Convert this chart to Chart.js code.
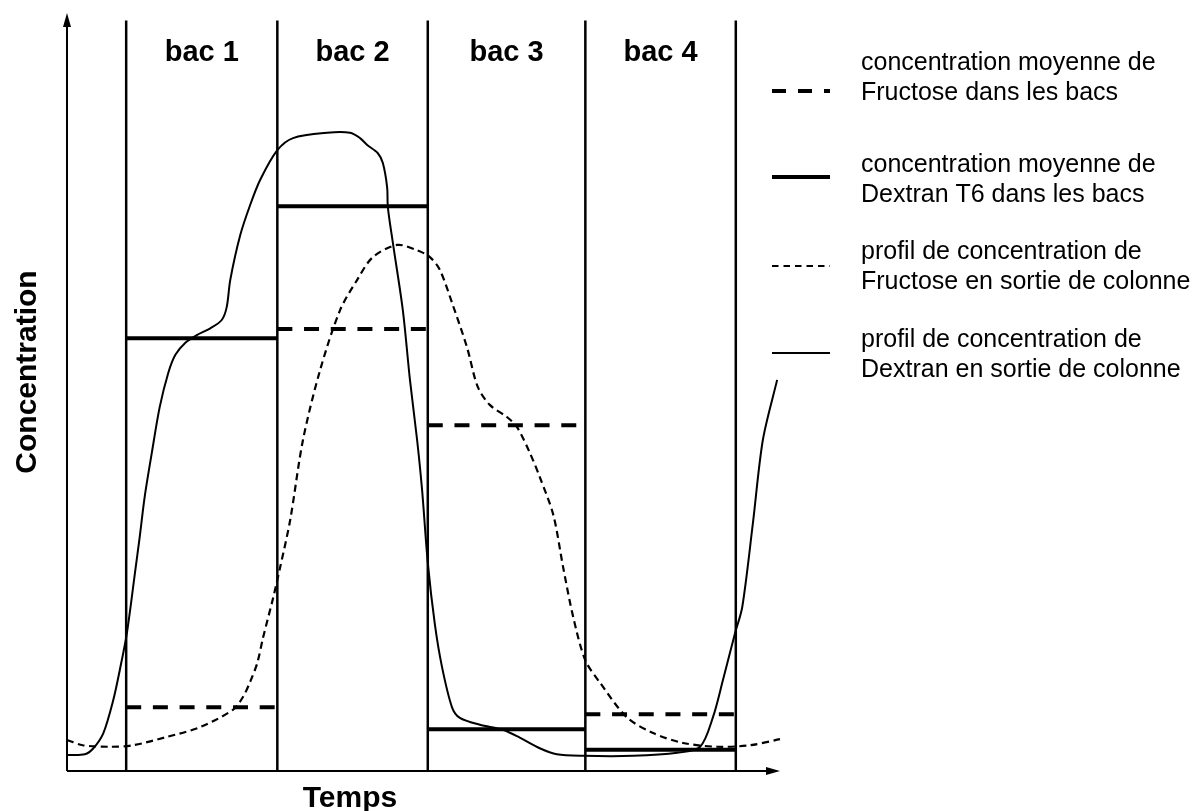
<!DOCTYPE html>
<html>
<head>
<meta charset="utf-8">
<script src="https://cdn.jsdelivr.net/npm/chart.js@4"></script>
<style>
  body { margin: 0; background: #fff; }
  canvas { display: block; }
</style>
</head>
<body>
<canvas id="chart" width="1197" height="811"></canvas>
<script>
// bacs (collecting tanks) along the time axis
const bacLabels = ['bac 1', 'bac 2', 'bac 3', 'bac 4'];
const bacEdges = [8.3, 29.5, 50.6, 72.7, 93.8];

// mean concentration in each bac
const fructoseMean = [8.4, 58.3, 45.6, 7.5];
const dextranMean = [57.1, 74.5, 5.5, 2.8];

// column outlet profile, Fructose
const fructoseX = [0, 2.2, 6.0, 9.3, 14.0, 18.7, 23.3, 24.7, 25.7, 26.7, 27.5, 28.9, 29.9, 31.3, 33.1, 35.5,
  38.3, 40.7, 42.9, 46.3, 49.1, 50.9, 52.3, 54.1, 56.1, 57.6, 59.3, 61.7, 63.1, 64.9, 66.3, 68.2, 69.6,
  71.0, 72.7, 74.8, 78.5, 82.2, 86.4, 91.2, 95.8, 100];
const fructoseY = [4.1, 3.4, 3.2, 3.4, 4.5, 5.8, 8.1, 9.8, 11.8, 14.3, 17.6, 22.8, 26.9, 33.1, 43.7, 52.9,
  60.8, 64.8, 67.8, 69.4, 68.7, 67.8, 66.1, 61.5, 55.9, 50.7, 48.3, 46.7, 45.4, 42.0, 38.8, 33.8, 26.8,
  20.3, 14.6, 11.6, 7.1, 5.0, 3.7, 3.2, 3.4, 4.2];

// column outlet profile, Dextran
const dextranX = [0, 2.5, 3.7, 5.1, 6.5, 7.4, 8.4, 9.5, 10.2, 10.9, 11.9, 13.0, 14.2, 15.2, 16.6, 18.2,
  20.1, 21.7, 22.4, 22.9, 24.3, 25.7, 27.1, 29.5, 31.7, 36.5, 39.7, 41.1, 42.1, 43.6, 44.3, 44.9, 45.0,
  45.7, 47.1, 48.1, 49.1, 49.8, 50.6, 51.6, 52.6, 54.0, 55.1, 57.9, 61.2, 63.5, 66.3, 68.7, 72.4, 79.4,
  85.6, 88.8, 90.6, 92.0, 93.7, 94.7, 96.2, 97.6, 99.6];
const dextranY = [2.1, 2.2, 3.0, 5.0, 9.4, 13.3, 18.2, 25.9, 30.9, 36.2, 42.0, 48.0, 52.5, 54.9, 56.5, 57.5,
  58.4, 59.5, 61.2, 64.8, 70.7, 74.7, 78.0, 81.9, 83.5, 84.2, 84.2, 83.5, 82.6, 81.5, 80.2, 77.0, 74.4,
  69.7, 60.8, 51.6, 43.7, 37.1, 27.5, 19.3, 13.7, 8.4, 7.0, 6.1, 5.4, 4.4, 3.0, 2.2, 2.0, 2.0,
  2.4, 3.2, 7.1, 12.0, 18.2, 21.6, 32.7, 43.7, 51.6];

const bacTop = 99;

const legendLabels = [
  ['concentration moyenne de', 'Fructose dans les bacs'],
  ['concentration moyenne de', 'Dextran T6 dans les bacs'],
  ['profil de concentration de', 'Fructose en sortie de colonne'],
  ['profil de concentration de', 'Dextran en sortie de colonne']
];

function toPoints(xs, ys) {
  return xs.map((x, i) => ({ x: x, y: ys[i] }));
}

// one horizontal segment per bac, separated by gaps
function meanSegments(values) {
  const pts = [];
  values.forEach((v, i) => {
    pts.push({ x: bacEdges[i], y: v });
    pts.push({ x: bacEdges[i + 1], y: v });
    pts.push({ x: bacEdges[i + 1], y: null });
  });
  return pts;
}

function bacLines() {
  const pts = [];
  bacEdges.forEach(e => {
    pts.push({ x: e, y: 0 });
    pts.push({ x: e, y: bacTop });
    pts.push({ x: e, y: null });
  });
  return pts;
}

// axes with arrows, bac titles, axis titles and the legend
const decorPlugin = {
  id: 'decor',
  afterDatasetsDraw(chart) {
    const ctx = chart.ctx;
    const xs = chart.scales.x, ys = chart.scales.y;
    const x0 = xs.getPixelForValue(0), y0 = ys.getPixelForValue(0);
    const xEnd = xs.getPixelForValue(100), yEnd = ys.getPixelForValue(100);
    ctx.save();
    ctx.strokeStyle = '#000';
    ctx.fillStyle = '#000';
    ctx.lineWidth = 2;
    ctx.setLineDash([]);
    ctx.beginPath();
    ctx.moveTo(x0, y0); ctx.lineTo(xEnd - 8, y0);
    ctx.moveTo(x0, y0); ctx.lineTo(x0, yEnd + 8);
    ctx.stroke();
    // arrow heads
    ctx.beginPath();
    ctx.moveTo(xEnd, y0); ctx.lineTo(xEnd - 14, y0 - 4); ctx.lineTo(xEnd - 14, y0 + 4); ctx.closePath();
    ctx.fill();
    ctx.beginPath();
    ctx.moveTo(x0, yEnd); ctx.lineTo(x0 - 4, yEnd + 14); ctx.lineTo(x0 + 4, yEnd + 14); ctx.closePath();
    ctx.fill();

    // bac titles
    ctx.font = 'bold 29px "Liberation Sans", Arial, sans-serif';
    ctx.textAlign = 'center';
    ctx.textBaseline = 'alphabetic';
    bacLabels.forEach((lab, i) => {
      const cx = (xs.getPixelForValue(bacEdges[i]) + xs.getPixelForValue(bacEdges[i + 1])) / 2;
      ctx.fillText(lab, cx, 61);
    });

    // axis titles
    ctx.font = 'bold 30px "Liberation Sans", Arial, sans-serif';
    ctx.fillText('Temps', 350, 807);
    ctx.save();
    ctx.translate(36, 372);
    ctx.rotate(-Math.PI / 2);
    ctx.fillText('Concentration', 0, 0);
    ctx.restore();

    // legend
    const sampleY = [91, 177, 266, 353];
    const textY = [63, 165, 252, 340];
    const styles = [
      { w: 4, dash: [14, 12] },
      { w: 4, dash: [] },
      { w: 2, dash: [6.5, 5] },
      { w: 2, dash: [] }
    ];
    ctx.textAlign = 'left';
    ctx.textBaseline = 'middle';
    ctx.font = '25px "Liberation Sans", Arial, sans-serif';
    legendLabels.forEach((lines, i) => {
      ctx.lineWidth = styles[i].w;
      ctx.setLineDash(styles[i].dash);
      ctx.beginPath();
      ctx.moveTo(772, sampleY[i]);
      ctx.lineTo(830, sampleY[i]);
      ctx.stroke();
      ctx.fillText(lines[0], 861, textY[i]);
      ctx.fillText(lines[1], 861, textY[i] + 30);
    });
    ctx.restore();
  }
};

const ctx = document.getElementById('chart').getContext('2d');
new Chart(ctx, {
  type: 'line',
  data: {
    datasets: [
      {
        label: 'bacs',
        data: bacLines(),
        borderColor: '#000',
        borderWidth: 2.5,
        tension: 0,
        spanGaps: false
      },
      {
        label: legendLabels[0].join(' '),
        data: meanSegments(fructoseMean),
        borderColor: '#000',
        borderWidth: 4,
        borderDash: [15, 11.7],
        tension: 0,
        spanGaps: false
      },
      {
        label: legendLabels[1].join(' '),
        data: meanSegments(dextranMean),
        borderColor: '#000',
        borderWidth: 4,
        tension: 0,
        spanGaps: false
      },
      {
        label: legendLabels[2].join(' '),
        data: toPoints(fructoseX, fructoseY),
        borderColor: '#000',
        borderWidth: 2.2,
        borderDash: [7, 4.5],
        tension: 0.3
      },
      {
        label: legendLabels[3].join(' '),
        data: toPoints(dextranX, dextranY),
        borderColor: '#000',
        borderWidth: 2,
        tension: 0.3
      }
    ]
  },
  options: {
    responsive: false,
    animation: false,
    devicePixelRatio: 1,
    clip: false,
    layout: { padding: { left: 67, right: 417, top: 13, bottom: 40 } },
    elements: { point: { radius: 0, hoverRadius: 0 } },
    plugins: { legend: { display: false }, tooltip: { enabled: false } },
    scales: {
      x: { type: 'linear', min: 0, max: 100, display: false },
      y: { type: 'linear', min: 0, max: 100, display: false }
    }
  },
  plugins: [decorPlugin]
});
</script>
</body>
</html>
